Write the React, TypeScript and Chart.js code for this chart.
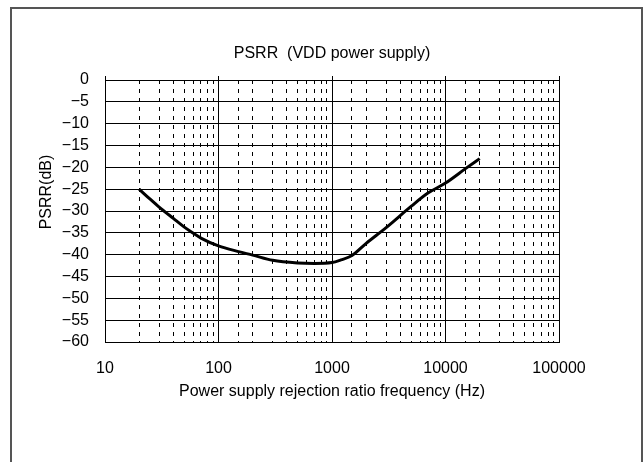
import React, { useEffect, useRef } from "react";
import { Chart, registerables } from "chart.js";

Chart.register(...registerables);

// Measured PSRR of the VDD supply versus frequency
const FREQ_HZ = [20, 25, 30, 40, 50, 60, 70, 100, 150, 200, 300, 500, 700, 1000, 1200, 1500, 2000, 3000, 5000, 7000, 10000, 15000, 20000];
const PSRR_DB = [-25, -27.3, -29.1, -31.7, -33.7, -35.1, -36.2, -38, -39.3, -40.1, -41.3, -41.9, -42, -41.8, -41.2, -40.2, -37.4, -33.8, -28.9, -25.9, -23.6, -20.3, -18];

const X_MIN = 10;
const X_MAX = 100000;
const Y_MIN = -60;
const Y_MAX = 0;
const Y_STEP = 5;

const TITLE = "PSRR  (VDD power supply)";
const X_TITLE = "Power supply rejection ratio frequency (Hz)";
const Y_TITLE = "PSRR(dB)";

const FONT_FAMILY = '"Liberation Sans", Arial, Helvetica, sans-serif';

const isDecade = (v: number) => Math.abs(Math.log10(v) - Math.round(Math.log10(v))) < 1e-9;

const frame = {
  id: "frame",
  beforeDraw(chart: Chart) {
    const ctx = chart.ctx;
    ctx.save();
    ctx.strokeStyle = "#555";
    ctx.lineWidth = 2;
    ctx.strokeRect(11, 8, 631, 520);
    ctx.restore();
  },
};

const yTitle = {
  id: "yTitle",
  afterDraw(chart: Chart) {
    const { ctx, chartArea } = chart;
    ctx.save();
    ctx.translate(chartArea.left - 58, (chartArea.top + chartArea.bottom) / 2 - 19);
    ctx.rotate(-Math.PI / 2);
    ctx.font = `16px ${FONT_FAMILY}`;
    ctx.fillStyle = "#000";
    ctx.textAlign = "center";
    ctx.textBaseline = "middle";
    ctx.fillText(Y_TITLE, 0, 0);
    ctx.restore();
  },
};

export default function App() {
  const canvasRef = useRef<HTMLCanvasElement | null>(null);

  useEffect(() => {
    if (!canvasRef.current) return;
    const points = FREQ_HZ.map((f, i) => ({ x: f, y: PSRR_DB[i] }));
    const chart = new Chart(canvasRef.current, {
      type: "line",
      data: {
        datasets: [
          {
            data: points,
            borderColor: "#000",
            borderWidth: 3,
            pointRadius: 0,
            cubicInterpolationMode: "monotone",
            fill: false,
          },
        ],
      },
      options: {
        animation: false,
        responsive: false,
        devicePixelRatio: 1,
        layout: { padding: { left: 0, right: 85, top: 0, bottom: 50 } },
        plugins: {
          legend: { display: false },
          tooltip: { enabled: false },
          title: {
            display: true,
            text: TITLE,
            fullSize: false,
            color: "#000",
            font: { family: FONT_FAMILY, size: 16, weight: "normal" },
            padding: { top: 44, bottom: 12.8 },
          },
        },
        scales: {
          x: {
            type: "logarithmic",
            position: "bottom",
            min: X_MIN,
            max: X_MAX,
            afterFit: (s: any) => {
              s.height = 70;
              s.paddingLeft = 0;
              s.paddingRight = 0;
            },
            grid: {
              color: "#000",
              lineWidth: 1,
              drawTicks: false,
            },
            border: {
              color: "#000",
              width: 1,
              dash: (ctx: any) => (ctx.tick && !isDecade(ctx.tick.value) ? [4, 5] : []),
            },
            ticks: {
              autoSkip: false,
              maxRotation: 0,
              padding: 17,
              color: "#000",
              font: { family: FONT_FAMILY, size: 16 },
              callback: (v: any) => (isDecade(Number(v)) ? String(Math.round(Number(v))) : ""),
            },
            title: {
              display: true,
              text: X_TITLE,
              color: "#000",
              font: { family: FONT_FAMILY, size: 16 },
              padding: { top: 0, bottom: 10.4 },
            },
          },
          xTop: {
            type: "logarithmic",
            position: "top",
            min: X_MIN,
            max: X_MAX,
            afterBuildTicks: (s: any) => {
              s.ticks = s.ticks.filter((t: any) => isDecade(t.value));
            },
            afterFit: (s: any) => {
              s.height = 4;
              s.paddingLeft = 0;
              s.paddingRight = 0;
            },
            grid: {
              drawOnChartArea: false,
              drawTicks: true,
              tickLength: 4,
              tickColor: "#000",
              color: "#000",
            },
            border: { color: "#000", width: 1 },
            ticks: { display: false },
          },
          y: {
            type: "linear",
            min: Y_MIN,
            max: Y_MAX,
            afterFit: (s: any) => {
              s.width = 105;
              s.paddingTop = 0;
              s.paddingBottom = 0;
            },
            grid: { color: "#000", lineWidth: 1, drawTicks: false },
            border: { color: "#000", width: 1 },
            ticks: {
              stepSize: Y_STEP,
              autoSkip: false,
              padding: 16,
              color: "#000",
              font: { family: FONT_FAMILY, size: 16 },
              callback: (v: any) => {
                const n = Number(v);
                return n < 0 ? "\u2212" + Math.abs(n) : String(n);
              },
            },
          },
        },
      },
      plugins: [frame, yTitle],
    });
    return () => chart.destroy();
  }, []);

  return (
    <div style={{ position: "absolute", left: 0, top: 0, width: 644, height: 462, background: "#fff" }}>
      <canvas ref={canvasRef} width={644} height={462} style={{ display: "block" }} />
    </div>
  );
}
